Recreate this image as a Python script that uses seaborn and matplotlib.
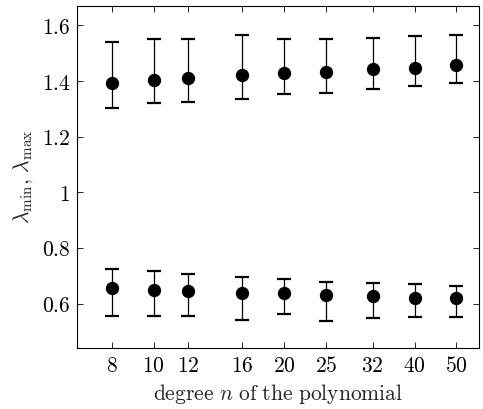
import matplotlib
matplotlib.use("Agg")
import matplotlib.pyplot as plt
import seaborn as sns
import pandas as pd
import numpy as np

degrees = [8, 10, 12, 16, 20, 25, 32, 40, 50]

max_mean = [1.394, 1.403, 1.412, 1.421, 1.428, 1.434, 1.443, 1.448, 1.456]
max_hi   = [1.539, 1.552, 1.552, 1.566, 1.550, 1.550, 1.556, 1.560, 1.566]
max_lo   = [1.304, 1.322, 1.324, 1.337, 1.352, 1.358, 1.372, 1.382, 1.394]

min_mean = [0.656, 0.650, 0.646, 0.638, 0.637, 0.630, 0.627, 0.621, 0.620]
min_hi   = [0.724, 0.716, 0.705, 0.694, 0.687, 0.679, 0.674, 0.670, 0.663]
min_lo   = [0.556, 0.557, 0.555, 0.540, 0.562, 0.539, 0.548, 0.553, 0.551]

y_ticks = [0.6, 0.8, 1.0, 1.2, 1.4, 1.6]
y_tick_labels = ["0.6", "0.8", "1", "1.2", "1.4", "1.6"]

sns.set_style("white")
plt.rcParams["mathtext.fontset"] = "cm"
plt.rcParams["font.family"] = ["DejaVu Serif"]

df = pd.DataFrame({
    "n": degrees * 2,
    "mean": max_mean + min_mean,
    "lo": max_lo + min_lo,
    "hi": max_hi + min_hi,
    "series": ["max"] * len(degrees) + ["min"] * len(degrees),
})

fig = plt.figure(figsize=(4.83, 4.09), dpi=100)
ax = fig.add_axes([0.160, 0.148, 0.832, 0.837])
ax.set_xscale("log")

for s, g in df.groupby("series"):
    ax.errorbar(g["n"], g["mean"],
                yerr=[g["mean"] - g["lo"], g["hi"] - g["mean"]],
                fmt="none", ecolor="black", elinewidth=0.9,
                capsize=4.8, capthick=1.6, zorder=2)

sns.scatterplot(data=df, x="n", y="mean", ax=ax, color="black",
                s=92, edgecolor="black", linewidth=0, legend=False, zorder=3)

ax.set_xlim(6.66, 56.4)
ax.set_ylim(0.439, 1.669)
ax.set_xticks(degrees)
ax.set_xticklabels([f"${d}$" for d in degrees])
ax.xaxis.set_minor_locator(matplotlib.ticker.NullLocator())
ax.set_yticks(y_ticks)
ax.set_yticklabels([f"${t}$" for t in y_tick_labels])

ax.tick_params(axis="both", which="major", direction="in", length=4,
               width=0.6, labelsize=15.5, top=True, right=True,
               bottom=True, left=True, pad=5, colors="black")
ax.tick_params(axis="both", labelcolor="black")
for sp in ax.spines.values():
    sp.set_color("black")
    sp.set_linewidth(0.8)

ax.set_xlabel(r"$\mathrm{degree}\ n\ \mathrm{of\ the\ polynomial}$", fontsize=15.5, labelpad=3)
ax.set_ylabel(r"$\lambda_{\mathrm{min}},\, \lambda_{\mathrm{max}}$", fontsize=15.5, labelpad=5)

fig.savefig("out.png", dpi=100)
